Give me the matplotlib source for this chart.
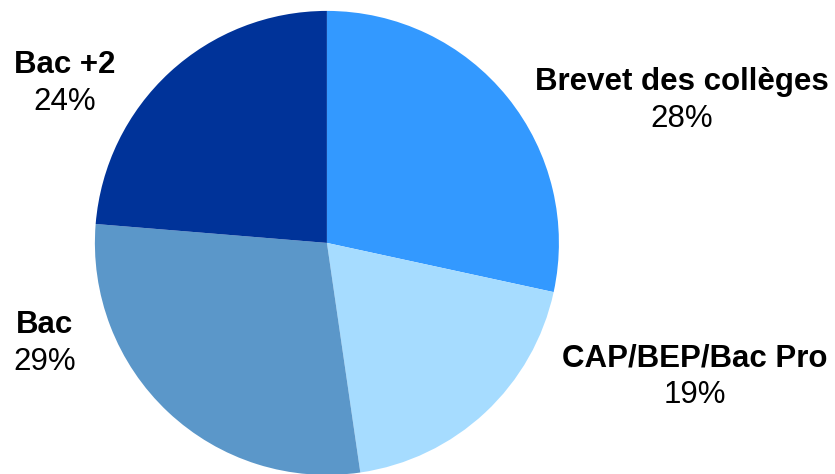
import matplotlib.pyplot as plt

plt.rcParams['font.family'] = ['Liberation Sans', 'DejaVu Sans']

labels = ['Brevet des collèges', 'CAP/BEP/Bac Pro', 'Bac', 'Bac +2']
values = [28.4, 19.3, 28.6, 23.7]
colors = ['#3399FF', '#A6DCFF', '#5B97C9', '#003399']

# label anchor positions (data coords, pie radius = 1)
label_pos = [(1.53, 0.694), (1.585, -0.497), (-1.216, -0.353), (-1.129, 0.767)]

fig = plt.figure(figsize=(8.35, 4.74), dpi=100)
ax = fig.add_axes([0, 0, 1, 1])
ax.pie(values, colors=colors, startangle=90, counterclock=False,
       radius=1.0, center=(0, 0), frame=True)
ax.set_xlim(-1.409, 2.190)
ax.set_ylim(-0.996, 1.047)
ax.set_aspect('equal')
ax.axis('off')

for name, v, (x, y) in zip(labels, values, label_pos):
    ax.text(x, y, name, ha='center', va='center', fontsize=22.5, fontweight='bold')
    ax.text(x, y - 0.16, f'{v:.0f}%', ha='center', va='center', fontsize=22.5)

fig.savefig('out.png', dpi=100)
